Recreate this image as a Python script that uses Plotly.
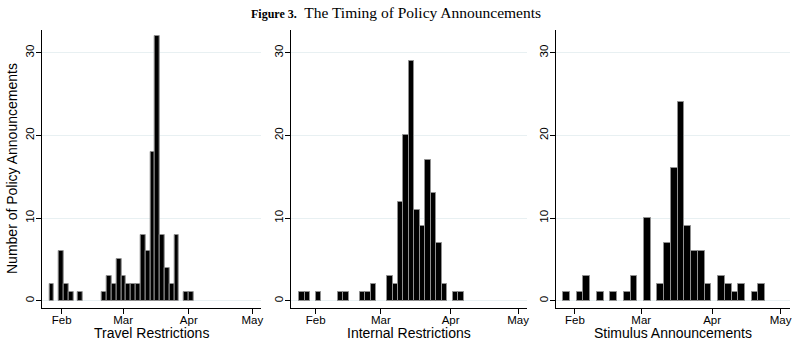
import pandas as pd
import plotly.graph_objects as go

# ---- data (histogram bin counts, 30 bins each) ----
panel_titles = ["Travel Restrictions", "Internal Restrictions", "Stimulus Announcements"]
travel_counts = [2, 0, 6, 2, 1, 0, 1, 0, 0, 0, 0, 1, 3, 2, 5, 3, 2, 2, 2, 8, 6, 18, 32, 8, 4, 2, 8, 0, 1, 1]
internal_counts = [1, 1, 0, 1, 0, 0, 0, 1, 1, 0, 0, 1, 1, 2, 0, 0, 3, 2, 12, 20, 29, 11, 9, 17, 13, 7, 2, 0, 1, 1]
stimulus_counts = [1, 0, 1, 3, 0, 1, 0, 1, 0, 1, 3, 0, 10, 0, 2, 7, 16, 24, 9, 6, 6, 2, 0, 3, 2, 1, 2, 0, 1, 2]
# first bin start (days after 2020-01-01) and bin width (days)
bin_starts = [25.16, 23.7, 25.88]
bin_widths = [2.268, 2.439, 2.945]
month_ticks = ["2020-02-01", "2020-03-01", "2020-04-01", "2020-05-01"]
month_labels = ["Feb", "Mar", "Apr", "May"]
y_ticks = [0, 10, 20, 30]
y_title = "Number of Policy Announcements"
fig_title = "<b style='font-size:12px'>Figure 3.</b>  The Timing of Policy Announcements"

# ---- layout geometry ----
W, H = 792, 345
x_ranges_days = [(21.56, 125.1), (20.0, 125.0), (22.7, 125.1)]
x_domains_px = [(41.7, 261), (291, 527), (556, 790)]
y_domain = ((H - 308) / H, (H - 30) / H)
y_range = [-0.88, 32.75]

base = pd.Timestamp("2020-01-01")


def day_to_date(d):
    return base + pd.Timedelta(days=d)


fig = go.Figure()
all_counts = [travel_counts, internal_counts, stimulus_counts]
font_family = "Liberation Sans, Arial, sans-serif"

for k, counts in enumerate(all_counts):
    start, w = bin_starts[k], bin_widths[k]
    centers = [day_to_date(start + (i + 0.5) * w) for i in range(len(counts))]
    xs = [c for c, v in zip(centers, counts) if v > 0]
    ys = [v for v in counts if v > 0]
    suffix = "" if k == 0 else str(k + 1)
    fig.add_trace(go.Bar(
        x=xs, y=ys, width=w * 86400000,
        marker=dict(color="black", line=dict(color="#8f8f8f", width=1)),
        xaxis="x" + suffix, yaxis="y" + suffix, showlegend=False, hoverinfo="skip",
    ))
    r0, r1 = x_ranges_days[k]
    d0, d1 = x_domains_px[k]
    xa = dict(
        domain=[d0 / W, d1 / W], anchor="y" + suffix, type="date",
        range=[day_to_date(r0).isoformat(), day_to_date(r1).isoformat()],
        tickvals=month_ticks, ticktext=month_labels,
        ticks="outside", ticklen=5, tickcolor="black", tickwidth=1,
        ticklabelstandoff=-4,
        showline=True, linecolor="black", linewidth=1, showgrid=False, zeroline=False,
        tickfont=dict(family=font_family, size=11.5, color="black"),
        automargin=False,
    )
    ya = dict(
        domain=list(y_domain), anchor="x" + suffix, range=y_range,
        tickvals=y_ticks, tickangle=-90,
        ticks="outside", ticklen=5, tickcolor="black", tickwidth=1,
        ticklabelstandoff=-3,
        showline=True, linecolor="black", linewidth=1,
        showgrid=True, gridcolor="#e8f0f2", gridwidth=1, zeroline=False,
        tickfont=dict(family=font_family, size=11.5, color="black"),
        automargin=False,
    )
    fig.layout["xaxis" + suffix] = xa
    fig.layout["yaxis" + suffix] = ya
    # x-axis title
    fig.add_annotation(
        text=panel_titles[k], x=(d0 + d1) / 2 / W, y=(H - 333) / H,
        xref="paper", yref="paper", xanchor="center", yanchor="middle", showarrow=False,
        font=dict(family=font_family, size=14, color="black"),
    )

fig.add_annotation(
    text=y_title, x=12 / W, y=(H - 169) / H, xref="paper", yref="paper",
    xanchor="center", yanchor="middle", textangle=-90, showarrow=False,
    font=dict(family=font_family, size=14, color="black"),
)

fig.add_annotation(
    text=fig_title, x=0.5, y=(H - 12) / H, xref="paper", yref="paper",
    xanchor="center", yanchor="middle", showarrow=False,
    font=dict(family="Liberation Serif, Times New Roman, serif", size=15.5, color="black"),
)

fig.update_layout(
    width=W, height=H, margin=dict(l=0, r=0, t=0, b=0),
    paper_bgcolor="white", plot_bgcolor="white", bargap=0,
)

fig.write_html("out.html", config={"displayModeBar": False},
               post_script="document.body.style.margin='0px';")
